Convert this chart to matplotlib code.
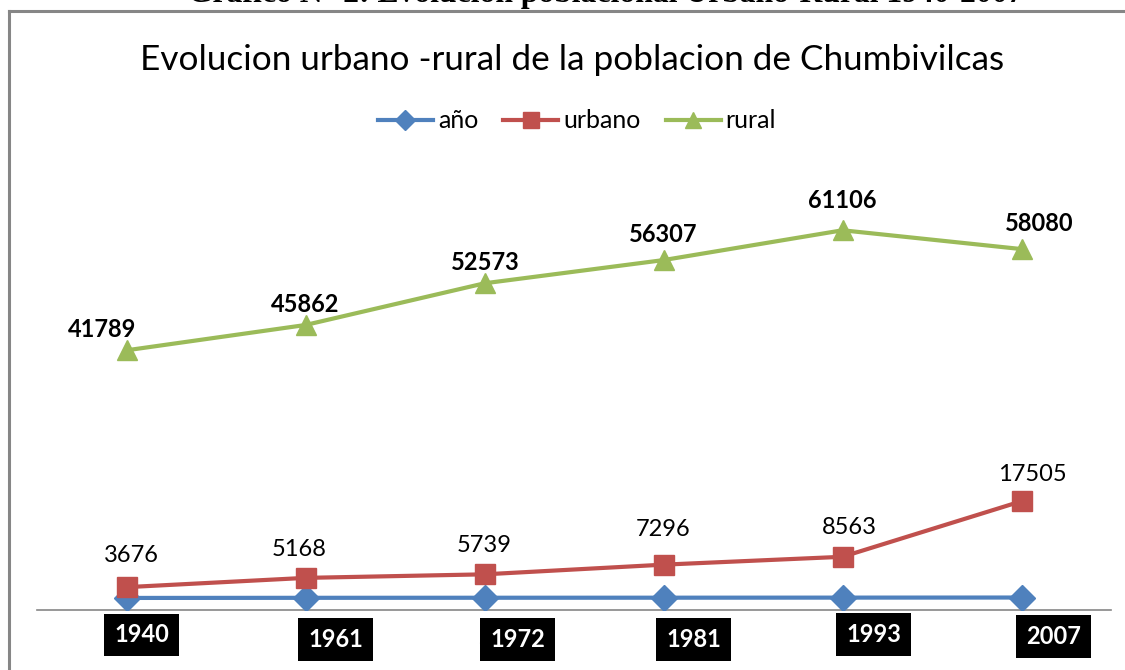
import matplotlib
matplotlib.use("Agg")
import matplotlib.pyplot as plt
from matplotlib.lines import Line2D
import numpy as np

# data
years = [1940, 1961, 1972, 1981, 1993, 2007]
categories = ['1', '2', '3', '4', '5', '6']
urbano = [3676, 5168, 5739, 7296, 8563, 17505]
rural = [41789, 45862, 52573, 56307, 61106, 58080]

# label offsets in pixels (dx, dy), as the labels were dragged around in the original
rural_off = [(-24, 13), (0, 13), (1, 13), (0, 18), (0, 22), (18, 18)]
urbano_off = [(5, 25), (-6, 22), (0, 22), (0, 29), (7, 23), (11, 20)]
year_off = [(15, -37), (30, -42), (33, -42), (30, -42), (31, -37), (32, -39)]

blue = '#4F81BD'
red = '#C0504D'
green = '#9BBB59'
gray = '#868686'

plt.rcParams['font.family'] = ['Lato', 'DejaVu Sans']

W, H = 1125, 670
fig = plt.figure(figsize=(W / 100, H / 100), dpi=100)
ax = fig.add_axes([37 / W, 60 / H, (1111 - 37) / W, (610 - 175) / H])

x = np.arange(len(years))
ax.plot(x, years, color=blue, lw=3, marker='D', ms=13, label='año', zorder=3)
ax.plot(x, urbano, color=red, lw=3, marker='s', ms=15, label='urbano', zorder=3)
ax.plot(x, rural, color=green, lw=3, marker='^', ms=15, label='rural', zorder=3)

ax.set_xlim(-0.5, 5.5)
ax.set_ylim(0, 70000)
ax.set_xticks(x)
ax.set_xticklabels(categories, fontsize=15)
ax.tick_params(axis='x', length=0, pad=15)
ax.set_yticks([])
for s in ['top', 'right', 'left']:
    ax.spines[s].set_visible(False)
ax.spines['bottom'].set_color(gray)
ax.spines['bottom'].set_linewidth(1.2)

for i in range(len(x)):
    ax.annotate(str(rural[i]), (x[i], rural[i]), xytext=rural_off[i],
                textcoords='offset pixels', ha='center', va='baseline',
                fontsize=17, fontweight='bold', color='black')
    ax.annotate(str(urbano[i]), (x[i], urbano[i]), xytext=urbano_off[i],
                textcoords='offset pixels', ha='center', va='baseline',
                fontsize=17, color='black')
    ax.annotate(str(years[i]), (x[i], years[i]), xytext=year_off[i],
                textcoords='offset pixels', ha='center', va='center',
                fontsize=17, fontweight='bold', color='white', zorder=5,
                annotation_clip=False,
                bbox=dict(boxstyle='square,pad=0.42', fc='black', ec='none'))

fig.text(572 / W, 1 - 70 / H, 'Evolucion urbano -rural de la poblacion de Chumbivilcas',
         ha='center', va='baseline', fontsize=25.3)

fig.legend(loc='center', bbox_to_anchor=(577 / W, 1 - 121 / H), ncol=3,
           frameon=False, fontsize=18, handlelength=2.2, handletextpad=0.2,
           columnspacing=1.0, markerscale=0.8)

# caption of the document, cut off at the top of the screenshot
fig.text(606 / W, 1 - 2 / H, 'Gráfico N° 2: Evolución poblacional Urbano-Rural 1940-2007',
         ha='center', va='baseline', fontsize=22.8, fontweight='bold',
         family='Liberation Serif')

# chart frame (left and top edges visible)
fig.add_artist(Line2D([8.5 / W, 8.5 / W], [0, 1 - 10.5 / H], color=gray, lw=2.2))
fig.add_artist(Line2D([8.5 / W, 1], [1 - 10.5 / H, 1 - 10.5 / H], color=gray, lw=2.2))

fig.savefig('out.png', dpi=100)
